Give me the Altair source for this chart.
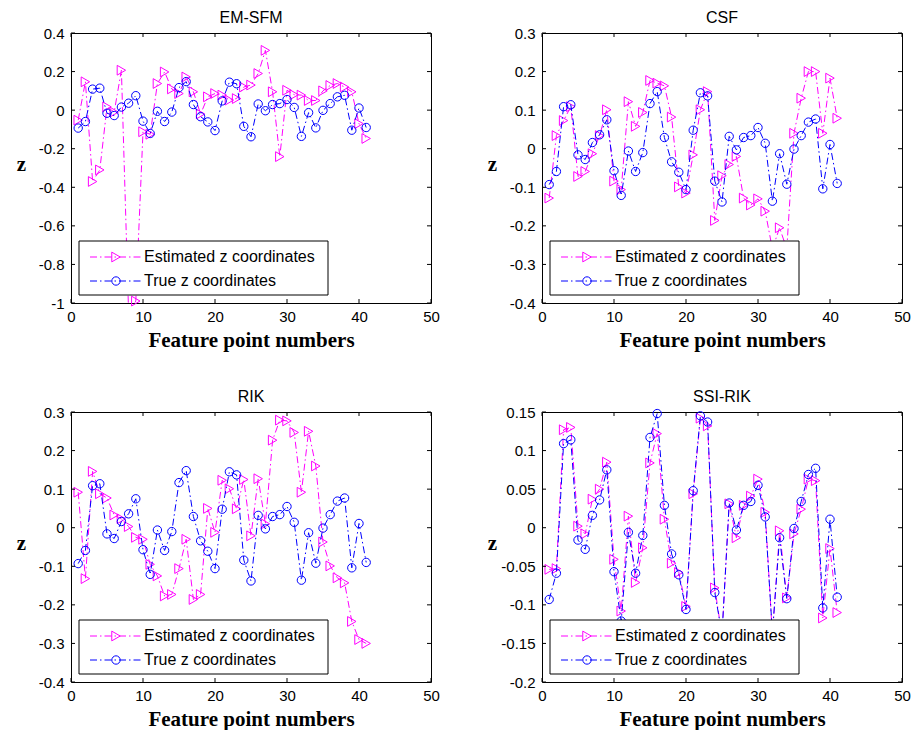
import altair as alt
import pandas as pd

point_no = list(range(1, 42))

true_z = [-0.093, -0.059, 0.109, 0.114, -0.016, -0.028, 0.016, 0.036, 0.075, -0.057,
          -0.121, -0.006, -0.059, -0.010, 0.117, 0.148, 0.029, -0.034, -0.061, -0.106,
          0.048, 0.145, 0.137, -0.084, -0.138, 0.032, -0.003, 0.029, 0.034, 0.055,
          0.014, -0.136, -0.013, -0.092, -0.001, 0.034, 0.069, 0.077, -0.104, 0.011, -0.090]

est_emsfm = [-0.052, 0.147, -0.37, -0.31, 0.017, -0.010, 0.207, -1.05, -0.99, -0.112,
             -0.125, 0.138, 0.198, 0.110, 0.086, 0.172, 0.095, -0.020, 0.069, 0.086,
             0.078, 0.052, 0.060, 0.120, 0.130, 0.190, 0.310, 0.095, -0.241, 0.103,
             0.080, 0.078, 0.050, 0.050, 0.100, 0.128, 0.138, 0.120, 0.095, -0.070, -0.147]

est_csf = [-0.128, 0.034, 0.073, 0.109, -0.072, -0.059, -0.013, 0.034, 0.101, -0.084,
           -0.106, 0.122, 0.058, 0.094, 0.177, 0.170, 0.163, 0.082, -0.099, -0.115,
           -0.016, 0.101, 0.148, -0.186, -0.070, -0.041, -0.020, -0.128, -0.146, -0.130,
           -0.162, -0.260, -0.205, -0.260, 0.040, 0.131, 0.200, 0.200, 0.040, 0.183, 0.079]

est_rik = [0.092, -0.132, 0.146, 0.088, 0.077, 0.033, 0.023, 0.003, -0.025, -0.030,
           -0.095, -0.125, -0.177, -0.173, -0.106, -0.030, -0.186, -0.173, 0.050, -0.012,
           0.123, 0.101, 0.049, 0.125, -0.021, 0.127, 0.010, 0.227, 0.279, 0.277,
           0.247, 0.092, 0.250, 0.160, -0.037, -0.099, -0.130, -0.143, -0.243, -0.290, -0.300]

est_ssirik = [-0.054, -0.053, 0.127, 0.130, 0.002, -0.008, 0.037, 0.050, 0.085, -0.041,
              -0.108, 0.015, -0.071, -0.026, 0.084, 0.122, 0.011, -0.046, -0.058, -0.102,
              0.044, 0.142, 0.132, -0.078, -0.140, 0.031, -0.013, 0.029, 0.041, 0.063,
              0.020, -0.140, -0.004, -0.091, -0.008, 0.024, 0.063, 0.061, -0.117, -0.027, -0.110]

panel_titles = ["EM-SFM", "CSF", "RIK", "SSI-RIK"]
panel_estimates = [est_emsfm, est_csf, est_rik, est_ssirik]
y_domains = [[-1.0, 0.4], [-0.4, 0.3], [-0.4, 0.3], [-0.2, 0.15]]
y_ticks = [
    [-1.0, -0.8, -0.6, -0.4, -0.2, 0.0, 0.2, 0.4],
    [-0.4, -0.3, -0.2, -0.1, 0.0, 0.1, 0.2, 0.3],
    [-0.4, -0.3, -0.2, -0.1, 0.0, 0.1, 0.2, 0.3],
    [-0.2, -0.15, -0.1, -0.05, 0.0, 0.05, 0.1, 0.15],
]
x_ticks = [0, 10, 20, 30, 40, 50]
series_names = ["Estimated z coordinates", "True z coordinates"]
series_colors = ["#ff00ff", "#0000ff"]
series_shapes = ["triangle-right", "circle"]
series_sizes = [95, 70]

W, H = 360, 270
DASH = [7, 3, 1.5, 3]
LABEL_EXPR = "replace(format(datum.value, '~g'), '\u2212', '-')"
one = pd.DataFrame({"k": [0]})


def panel(title, est, ydom, yt):
    df = pd.DataFrame({
        "n": point_no * 2,
        "z": est + true_z,
        "series": [series_names[0]] * len(est) + [series_names[1]] * len(true_z),
    })
    x_enc = alt.X("n:Q", scale=alt.Scale(domain=[0, 50], nice=False, zero=False),
                  axis=alt.Axis(values=x_ticks, title="Feature point numbers", labelExpr=LABEL_EXPR,
                                ticks=False, domain=False, grid=False, labelPadding=6, labelFlush=False,
                                titleY=43, titleBaseline="alphabetic"))
    y_enc = alt.Y("z:Q", scale=alt.Scale(domain=ydom, nice=False, zero=False),
                  axis=alt.Axis(values=yt, title="z", labelExpr=LABEL_EXPR, ticks=False,
                                domain=False, grid=False, labelPadding=7, labelFlush=False, titleAngle=0,
                                titleX=-50, titleY=131, titleAlign="center", titleBaseline="middle"))
    layers = []
    for s in range(2):
        name = series_names[s]
        base = alt.Chart(df).transform_filter(alt.datum.series == name)
        layers.append(base.mark_line(color=series_colors[s], strokeWidth=1, strokeDash=DASH, clip=True)
                      .encode(x=x_enc, y=y_enc))
        layers.append(base.transform_filter((alt.datum.z >= ydom[0]) & (alt.datum.z <= ydom[1]))
                      .mark_point(shape=series_shapes[s], filled=False, color=series_colors[s],
                                  size=series_sizes[s], strokeWidth=1, opacity=1)
                      .encode(x=x_enc, y=y_enc))
    # inward ticks
    xt = pd.DataFrame({"n": x_ticks})
    ytd = pd.DataFrame({"z": yt})
    tk = dict(color="black", strokeWidth=1)
    layers.append(alt.Chart(xt).mark_rule(**tk).encode(x=x_enc, y=alt.value(0), y2=alt.value(4)))
    layers.append(alt.Chart(xt).mark_rule(**tk).encode(x=x_enc, y=alt.value(H - 4), y2=alt.value(H)))
    layers.append(alt.Chart(ytd).mark_rule(**tk).encode(y=y_enc, x=alt.value(0), x2=alt.value(4)))
    layers.append(alt.Chart(ytd).mark_rule(**tk).encode(y=y_enc, x=alt.value(W - 4), x2=alt.value(W)))
    # legend box
    layers.append(alt.Chart(one).mark_rect(fill="white", stroke="black", strokeWidth=1)
                  .encode(x=alt.value(8), x2=alt.value(257), y=alt.value(208), y2=alt.value(262)))
    for s, yy in enumerate([224, 248]):
        layers.append(alt.Chart(one).mark_rule(color=series_colors[s], strokeWidth=1, strokeDash=DASH)
                      .encode(x=alt.value(19), x2=alt.value(70), y=alt.value(yy)))
        layers.append(alt.Chart(one).mark_point(shape=series_shapes[s], filled=False, color=series_colors[s],
                                                size=series_sizes[s], strokeWidth=1, opacity=1)
                      .encode(x=alt.value(45), y=alt.value(yy)))
        layers.append(alt.Chart(one).mark_text(align="left", baseline="middle", fontSize=16,
                                               font="Liberation Sans", color="black")
                      .encode(x=alt.value(73), y=alt.value(yy), text=alt.value(series_names[s])))
    return alt.layer(*layers).properties(
        width=W, height=H,
        title=alt.TitleParams(title, offset=-13, baseline="alphabetic", anchor="middle", frame="group"))


panels = [panel(panel_titles[i], panel_estimates[i], y_domains[i], y_ticks[i]) for i in range(4)]
row1 = alt.hconcat(panels[0], panels[1], spacing=46)
row2 = alt.hconcat(panels[2], panels[3], spacing=46)
chart = alt.vconcat(row1, row2, spacing=37).properties(
    padding={"left": 15, "top": 9, "right": 5, "bottom": 5},
    background="white",
).configure_view(stroke="black", strokeWidth=1).configure_axis(
    labelFont="Liberation Sans", labelFontSize=15, labelColor="black",
    titleFont="Liberation Serif", titleFontSize=21, titleFontWeight="bold", titleColor="black"
).configure_title(font="Liberation Sans", fontSize=16, fontWeight="normal", color="black")

chart.save("out.html", embed_options={"renderer": "svg", "actions": False})
